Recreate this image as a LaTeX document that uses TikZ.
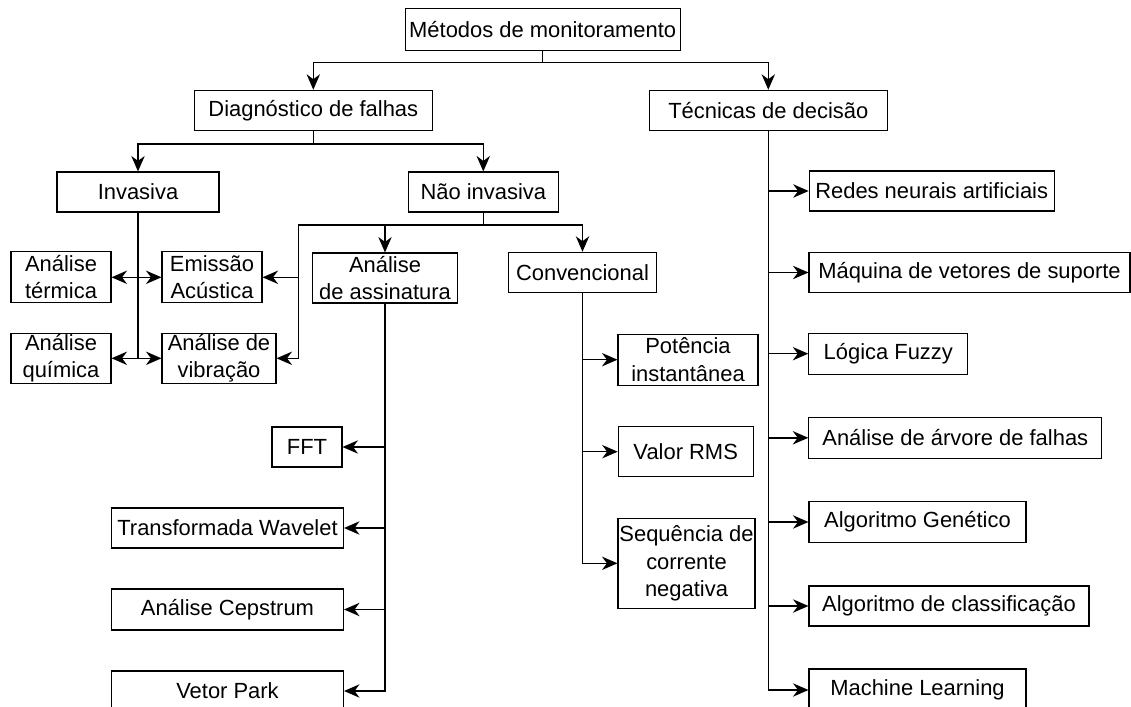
\documentclass[tikz,border=0pt]{standalone}
\usepackage{fontspec}
\setmainfont{Liberation Sans}
\usetikzlibrary{arrows.meta}
\tikzset{
  caixa/.style={draw, line width=0.75pt, inner sep=0pt, align=center, font=\fontsize{15.6}{19.5}\selectfont},
  sz/.style 2 args={minimum width=#1*0.025cm, minimum height=#2*0.025cm},
  seta/.style={-{Stealth[length=11pt,width=9.5pt,inset=3.5pt]}, line width=1pt},
  linha/.style={line width=1pt},
}
\begin{document}
\begin{tikzpicture}[x=0.025cm, y=-0.025cm]
  \useasboundingbox (0,0) rectangle (1131,707);

  % Topo
  \node[caixa, sz={275}{42}] (metodos) at (542.7,29.5) {Métodos de monitoramento};
  \node[caixa, sz={238}{40}] (diag) at (313.3,110.3) {Diagnóstico de falhas};
  \node[caixa, sz={238}{40}] (tecnicas) at (768.3,110.3) {Técnicas de decisão};
  \coordinate (j0) at (542.7,62.3);
  \draw[linha] (metodos.south) -- (j0);
  \draw[seta] (j0) -| (diag.north);
  \draw[seta] (j0) -| (tecnicas.north);

  % Diagnostico de falhas
  \node[caixa, sz={162}{40}] (invasiva) at (138,192) {Invasiva};
  \node[caixa, sz={150}{40}] (naoinv) at (483.3,192) {Não invasiva};
  \coordinate (j1) at (313.3,144);
  \draw[linha] (diag.south) -- (j1);
  \draw[seta] (j1) -| (invasiva.north);
  \draw[seta] (j1) -| (naoinv.north);

  % Invasiva
  \node[caixa, sz={100}{51}] (termica) at (61,277.3) {Análise\\térmica};
  \node[caixa, sz={100}{51}] (emissao) at (212,277.3) {Emissão\\Acústica};
  \node[caixa, sz={100}{50}] (quimica) at (61,358.3) {Análise\\química};
  \node[caixa, sz={114}{50}] (vibracao) at (219,358.3) {Análise de\\vibração};
  \draw[linha] (invasiva.south) -- (invasiva.south |- quimica.east);
  \draw[seta] (invasiva.south |- termica.east) -- (termica.east);
  \draw[seta] (invasiva.south |- emissao.west) -- (emissao.west);
  \draw[seta] (invasiva.south |- quimica.east) -- (quimica.east);
  \draw[seta] (invasiva.south |- vibracao.west) -- (vibracao.west);

  % Nao invasiva
  \node[caixa, sz={145}{50}] (assinatura) at (385,278) {Análise\\de assinatura};
  \node[caixa, sz={148}{40}] (convencional) at (582.5,272.3) {Convencional};
  \coordinate (j2) at (483.3,225);
  \coordinate (nl) at (298.3,225);
  \draw[linha] (naoinv.south) -- (j2) -- (nl);
  \draw[seta] (j2) -| (assinatura.north);
  \draw[seta] (j2) -| (convencional.north);
  \draw[seta] (nl) |- (vibracao.east);
  \draw[seta] (nl |- emissao.east) -- (emissao.east);

  % Analise de assinatura
  \node[caixa, sz={70}{40}] (fft) at (307,447) {FFT};
  \node[caixa, sz={232}{40}] (wavelet) at (227.5,528) {Transformada Wavelet};
  \node[caixa, sz={232}{41}] (cepstrum) at (227.5,609.5) {Análise Cepstrum};
  \node[caixa, sz={232}{40}] (park) at (227.5,691) {Vetor Park};
  \draw[seta] (assinatura.south) |- (park.east);
  \foreach \n in {fft,wavelet,cepstrum}
    \draw[seta] (assinatura.south |- \n.east) -- (\n.east);

  % Convencional
  \node[caixa, sz={140}{51}] (potencia) at (688,359.7) {Potência\\instantânea};
  \node[caixa, sz={135}{50}] (rms) at (685.7,451.7) {Valor RMS};
  \node[caixa, sz={137}{90}] (sequencia) at (686.5,563.3) {Sequência de\\corrente\\negativa};
  \draw[seta] (convencional.south) |- (sequencia.west);
  \foreach \n in {potencia,rms}
    \draw[seta] (convencional.south |- \n.west) -- (\n.west);

  % Tecnicas de decisao
  \node[caixa, sz={245}{40}] (redes) at (931.7,191) {Redes neurais artificiais};
  \node[caixa, sz={321}{40}] (maquina) at (969.5,272.5) {Máquina de vetores de suporte};
  \node[caixa, sz={159}{41}] (fuzzy) at (888.3,353.7) {Lógica Fuzzy};
  \node[caixa, sz={293}{41}] (arvore) at (955.3,437.8) {Análise de árvore de falhas};
  \node[caixa, sz={217}{41}] (genetico) at (917.5,522) {Algoritmo Genético};
  \node[caixa, sz={280}{40}] (classif) at (949,606) {Algoritmo de classificação};
  \node[caixa, sz={217}{42}] (ml) at (917.5,690) {Machine Learning};
  \draw[seta] (tecnicas.south) |- (ml.west);
  \foreach \n in {redes,maquina,fuzzy,arvore,genetico,classif}
    \draw[seta] (tecnicas.south |- \n.west) -- (\n.west);
\end{tikzpicture}
\end{document}
